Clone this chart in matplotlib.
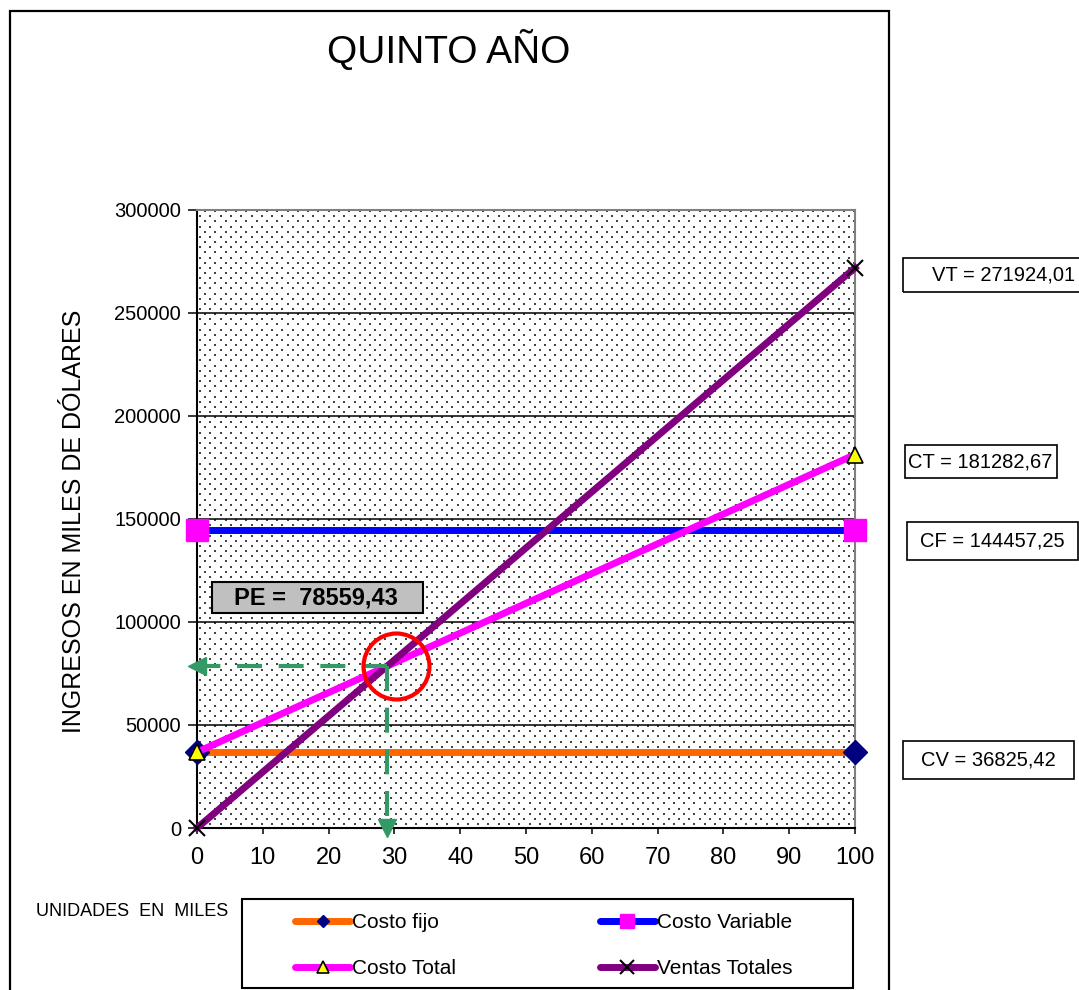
import numpy as np
import matplotlib.pyplot as plt
from matplotlib.lines import Line2D
from matplotlib.patches import Rectangle
from matplotlib.transforms import offset_copy

plt.rcParams['font.family'] = ['Liberation Sans', 'DejaVu Sans']

# unidades en miles
unidades = [0, 100]
costo_fijo = [36825.42, 36825.42]
costo_variable = [144457.25, 144457.25]
costo_total = [36825.42, 181282.67]
ventas_totales = [0, 271924.01]
punto_equilibrio = 78559.43

x_ticks = [0, 10, 20, 30, 40, 50, 60, 70, 80, 90, 100]
y_ticks = [0, 50000, 100000, 150000, 200000, 250000, 300000]

W, H = 1079, 990


def fmt(v):
    return f"{v:.2f}".replace(".", ",")


def px_box(x0, y0, x1, y1, **kw):
    # rectangulo en pixeles de la figura, origen arriba a la izquierda
    r = Rectangle((x0 / W, 1 - y1 / H), (x1 - x0) / W, (y1 - y0) / H,
                  transform=fig.transFigure, clip_on=False, **kw)
    fig.add_artist(r)


fig = plt.figure(figsize=(W / 100, H / 100), dpi=100)
ax = fig.add_axes([197 / W, 1 - 828 / H, 658 / W, 618 / H])

# fondo punteado
aw, ah = 658, 618
gx, gy = [], []
for i, yy in enumerate(np.arange(4, ah, 5.15)):
    start = 3 if i % 2 == 0 else 8.15
    for xx in np.arange(start, aw, 10.3):
        gx.append(xx / aw)
        gy.append(yy / ah)
ax.scatter(gx, gy, s=1.6, c='#444444', marker='s', linewidths=0,
           transform=ax.transAxes, zorder=0.4)

ax.plot(unidades, costo_fijo, color='#FF6600', lw=5, marker='D', ms=12,
        mfc='#000080', mec='#000080', clip_on=False, zorder=3)
ax.plot(unidades, costo_variable, color='#0000FF', lw=5, marker='s', ms=16.5,
        mfc='#FF00FF', mec='#FF00FF', clip_on=False, zorder=3)
ax.plot(unidades, costo_total, color='#FF00FF', lw=5, marker='^', ms=11,
        mfc='#FFFF00', mec='black', mew=1.2, clip_on=False, zorder=3)
ax.plot(unidades, ventas_totales, color='#800080', lw=5, marker='x', ms=12,
        mec='black', mew=1.5, clip_on=False, zorder=3)

# punto de equilibrio
x_pe = punto_equilibrio / ((ventas_totales[1] - ventas_totales[0]) / (unidades[1] - unidades[0]))
verde = '#339966'
ax.plot([x_pe, 0], [punto_equilibrio, punto_equilibrio], color=verde, lw=3,
        ls=(0, (6, 4)), zorder=4)
ax.plot([x_pe, x_pe], [punto_equilibrio, 0], color=verde, lw=3,
        ls=(0, (6, 4)), zorder=4)
ax.plot([0], [punto_equilibrio], marker='<', ms=13, color=verde, clip_on=False, zorder=4)
ax.plot([x_pe], [0], marker='v', ms=13, color=verde, clip_on=False, zorder=4)
ax.plot([x_pe], [punto_equilibrio], marker='o', ms=47.5, mfc='none', mec='#FF0000', mew=3,
        transform=offset_copy(ax.transData, fig, x=6.5, y=0, units='points'),
        clip_on=False, zorder=5)

ax.set_xlim(0, 100)
ax.set_ylim(0, 300000)
ax.set_xticks(x_ticks)
ax.set_yticks(y_ticks)
ax.set_yticklabels([str(v) for v in y_ticks])
ax.tick_params(axis='y', direction='out', length=6.5, width=1.1, labelsize=14.5, pad=5)
ax.tick_params(axis='x', direction='out', length=4, width=1.1, labelsize=17, pad=10)
ax.set_axisbelow(True)
ax.yaxis.grid(True, color='black', lw=1.1)
ax.get_ygridlines()[-1].set_visible(False)
for s in ['left', 'bottom']:
    ax.spines[s].set_linewidth(1.5)
for s in ['top', 'right']:
    ax.spines[s].set_color('#808080')
    ax.spines[s].set_linewidth(1.5)

# marco exterior
px_box(10, 11, 889, 1000, fill=False, ec='black', lw=1.6)

fig.text(448.5 / W, 1 - 63 / H, 'QUINTO AÑO', ha='center', va='baseline', fontsize=28)
fig.text(74 / W, 1 - 521 / H, 'INGRESOS EN MILES DE DÓLARES', rotation=90,
         ha='center', va='center', fontsize=18)
fig.text(36 / W, 1 - 916 / H, 'UNIDADES  EN  MILES', ha='left', va='baseline', fontsize=13)

# caja PE
px_box(212, 582, 423, 613, fc='#C0C0C0', ec='black', lw=1.5)
fig.text(316 / W, 1 - 598 / H, f"PE =  {fmt(punto_equilibrio)}", ha='center', va='center',
         fontsize=17, fontweight='bold')

# valores finales
cajas = [
    (f"VT = {fmt(ventas_totales[-1])}", (903, 258, 1095, 292), 932),
    (f"CT = {fmt(costo_total[-1])}", (905, 445, 1057, 478), 908),
    (f"CF = {fmt(costo_variable[-1])}", (907, 522, 1078, 560), 920),
    (f"CV = {fmt(costo_fijo[-1])}", (903, 741, 1074, 779), 921),
]
for txt, (x0, y0, x1, y1), tx in cajas:
    px_box(x0, y0, x1, y1, fill=False, ec='black', lw=1.2)
    fig.text(tx / W, 1 - (y0 + y1) / 2 / H, txt, ha='left', va='center', fontsize=14.5)

# leyenda
px_box(242, 899, 853, 988, fill=False, ec='black', lw=1.5)
handles = [
    Line2D([], [], color='#FF6600', lw=5, solid_capstyle='round', marker='D', ms=6.6,
           mfc='#000080', mec='#000080'),
    Line2D([], [], color='#FF00FF', lw=5, solid_capstyle='round', marker='^', ms=8.5,
           mfc='#FFFF00', mec='black', mew=1.2),
    Line2D([], [], color='#0000FF', lw=5, solid_capstyle='round', marker='s', ms=9.4,
           mfc='#FF00FF', mec='#FF00FF'),
    Line2D([], [], color='#800080', lw=5, solid_capstyle='round', marker='x', ms=9.5,
           mec='black', mew=1.5),
]
labels = ['Costo fijo', 'Costo Total', 'Costo Variable', 'Ventas Totales']
fig.legend(handles, labels, ncol=2, loc='upper left', bbox_to_anchor=(295 / W, 1 - 913 / H),
           frameon=False, fontsize=15, handlelength=2.64, handletextpad=0.1,
           columnspacing=6.9, labelspacing=1.3, borderpad=0, borderaxespad=0)

fig.savefig('out.png', dpi=100)
